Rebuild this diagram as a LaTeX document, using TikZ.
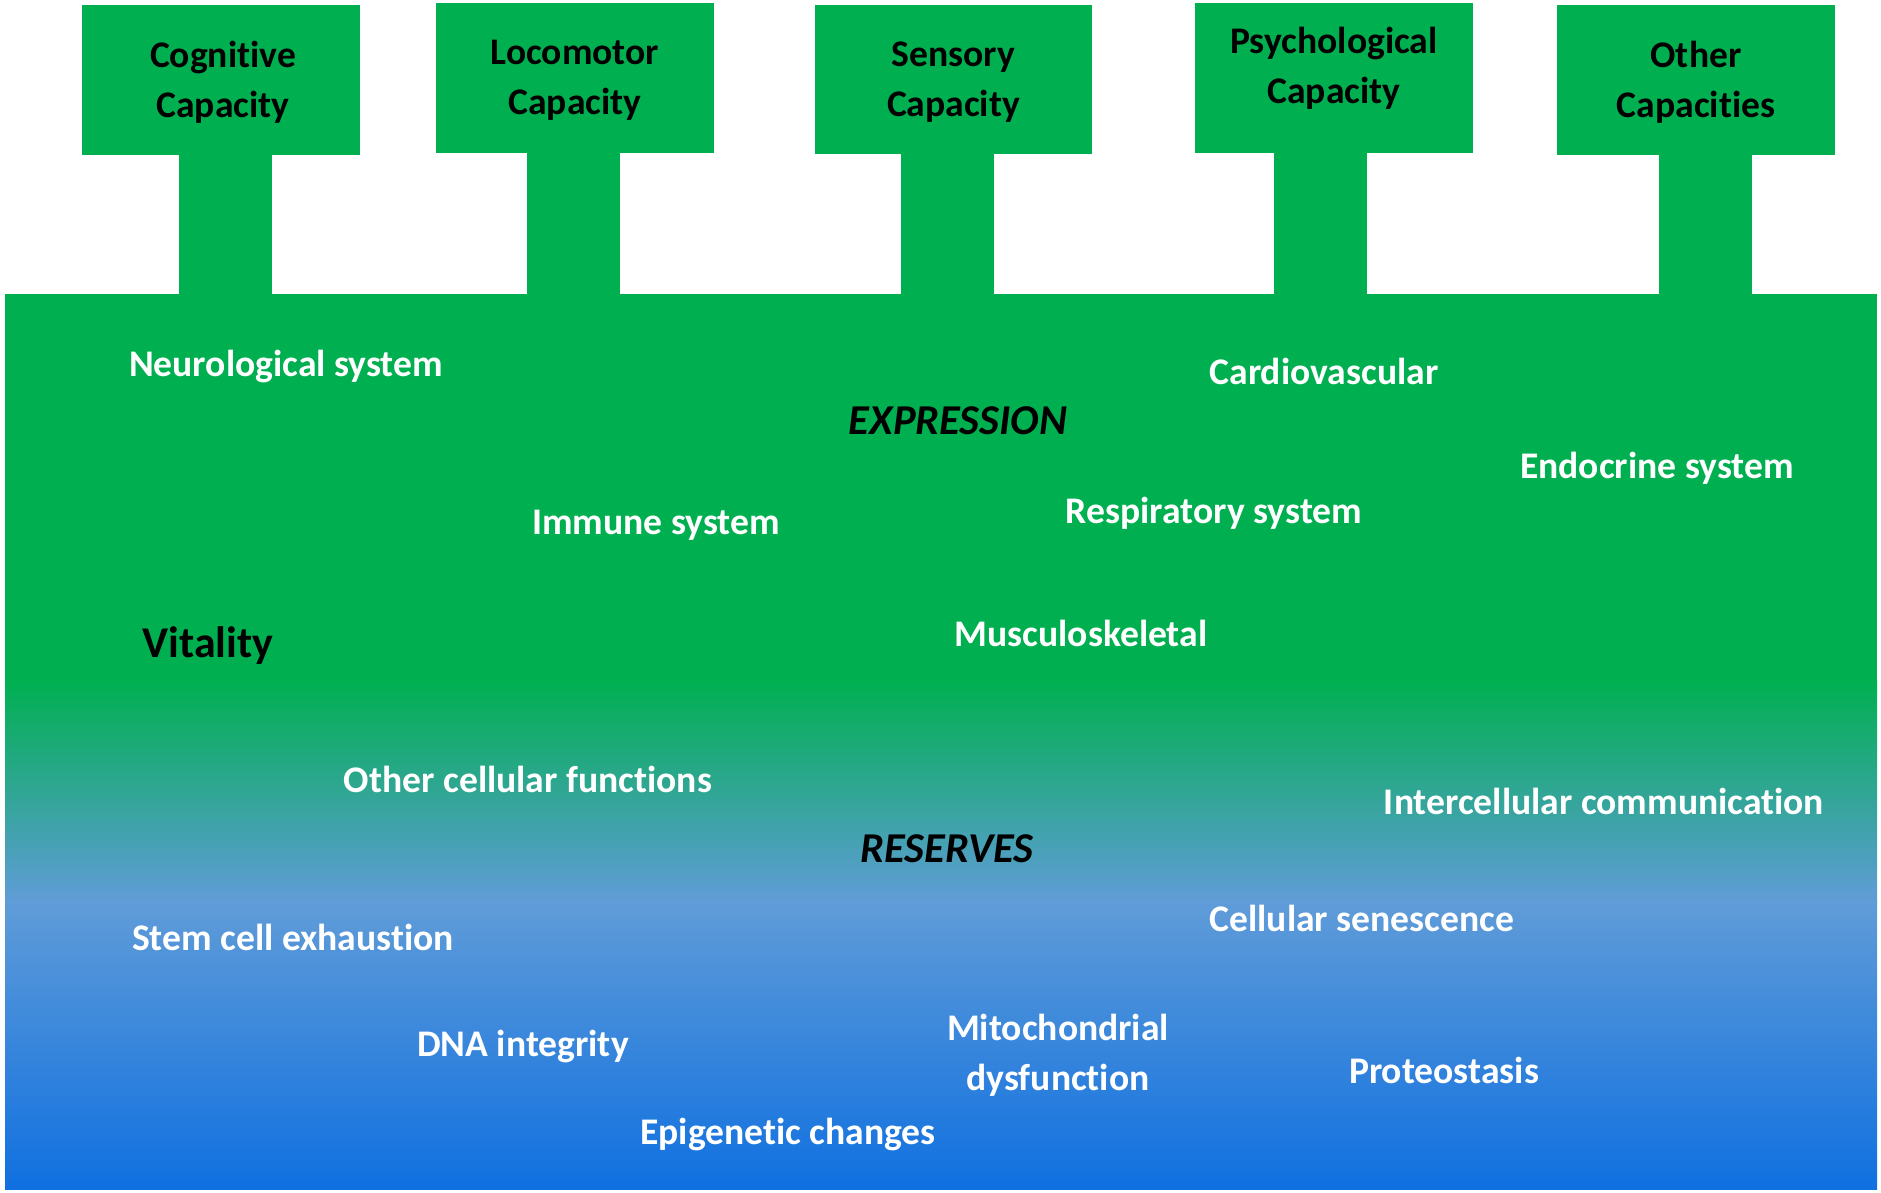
\documentclass[tikz,border=0pt]{standalone}
\usepackage{fontspec}
\setmainfont{Carlito}[Ligatures=NoCommon]
\usetikzlibrary{calc}

\definecolor{capgreen}{HTML}{00B050}
\definecolor{midblue}{HTML}{609CD8}
\definecolor{deepblue}{HTML}{1070E0}

\tikzset{
  capbox/.style={fill=capgreen, minimum width=5.56cm, minimum height=3cm,
    inner sep=0pt, text=black},
  captext/.style={text=black, inner sep=0pt, align=center,
    font=\fontsize{21.4}{28.4}\selectfont\bfseries},
  stem/.style={draw=capgreen, line width=1.86cm},
  syslabel/.style={text=white, inner sep=0pt, align=center,
    font=\fontsize{21.4}{28.4}\selectfont\bfseries},
  headlabel/.style={text=black, inner sep=0pt,
    font=\fontsize{24.2}{28}\selectfont\bfseries\itshape},
  vitlabel/.style={text=black, inner sep=0pt,
    font=\fontsize{25}{30}\selectfont\bfseries}
}

\begin{document}
\begin{tikzpicture}[x=0.02cm, y=-0.02cm]
\useasboundingbox (0,0) rectangle (1881,1193);

% base panel: solid green, then fading through light blue to deep blue
\fill[capgreen] (5,294) rectangle (1877,682);
\fill[top color=capgreen, bottom color=midblue] (5,680) rectangle (1877,902);
\fill[top color=midblue, bottom color=deepblue] (5,900) rectangle (1877,1189);
\coordinate (basetop) at (5,298);

% capacity boxes
\node[capbox] (cog)   at (221,80)     {};
\node[capbox] (loco)  at (575,78)     {};
\node[capbox] (sens)  at (953.5,79.5) {};
\node[capbox] (psych) at (1334,78)    {};
\node[capbox] (other) at (1696,80)    {};

% capacity captions
\node[captext] (cogtext)   at (223,82)    {Cognitive\\Capacity};
\node[captext] (locotext)  at (575,80)    {Locomotor\\Capacity};
\node[captext] (senstext)  at (953.5,82)  {Sensory\\Capacity};
\node[captext] (psychtext) at (1334,68.5) {Psychological\\Capacity};
\node[captext] (othertext) at (1696,82)   {Other\\Capacities};

% stem foot points, slightly off the box centres
\coordinate (cogstem)   at ($(cog.south)+(4.5,-2)$);
\coordinate (locostem)  at ($(loco.south)+(-1.5,-2)$);
\coordinate (sensstem)  at ($(sens.south)+(-6,-2)$);
\coordinate (psychstem) at ($(psych.south)+(-14,-2)$);
\coordinate (otherstem) at ($(other.south)+(9,-2)$);

% stems joining each box to the base panel
\foreach \s in {cogstem,locostem,sensstem,psychstem,otherstem}
  \draw[stem] (\s) -- (\s |- basetop);

% expression level
\node[syslabel] (neuro)  at (286,366)  {Neurological system};
\node[syslabel] (cardio) at (1324,371) {Cardiovascular};
\node[headlabel] (expr)  at (958,421)  {EXPRESSION};
\node[syslabel] (endo)   at (1657,468) {Endocrine system};
\node[syslabel] (immune) at (656,525)  {Immune system};
\node[syslabel] (resp)   at (1214,513) {Respiratory system};
\node[vitlabel] (vital)  at (208,646)  {Vitality};
\node[syslabel] (musc)   at (1081,633) {Musculoskeletal};

% reserves level
\node[syslabel] (cellfn) at (528,779)   {Other cellular functions};
\node[syslabel] (inter)  at (1604,801)  {Intercellular communication};
\node[headlabel] (resv)  at (947,849)   {RESERVES};
\node[syslabel] (stemcell) at (293,937) {Stem cell exhaustion};
\node[syslabel] (senes)  at (1362,918)  {Cellular senescence};
\node[syslabel] (dna)    at (523,1046)  {DNA integrity};
\node[syslabel] (mito)   at (1058,1055) {Mitochondrial\\dysfunction};
\node[syslabel] (prot)   at (1444,1070) {Proteostasis};
\node[syslabel] (epi)    at (788,1134)  {Epigenetic changes};
\end{tikzpicture}
\end{document}
